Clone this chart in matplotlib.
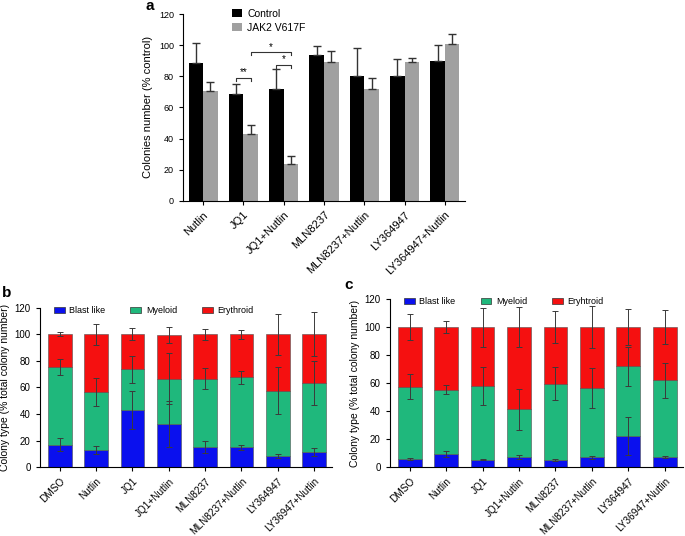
import numpy as np
import matplotlib
matplotlib.use("Agg")
import matplotlib.pyplot as plt
from matplotlib.patches import Patch

plt.rcParams['font.family'] = ['Liberation Sans', 'DejaVu Sans']

# panel a
drugs_a = ["Nutlin", "JQ1", "JQ1+Nutlin", "MLN8237", "MLN8237+Nutlin", "LY364947", "LY364947+Nutlin"]
ctrl = [88.5, 68.5, 72, 93.5, 80.5, 80.5, 90]
ctrl_err = [13, 6.5, 13, 6, 17.5, 10.5, 10]
jak2 = [70.5, 43, 23.5, 89.5, 72, 89.5, 100.5]
jak2_err = [6, 6, 5, 6.5, 7, 2.5, 6.5]

# panel b
drugs_b = ["DMSO", "Nutlin", "JQ1", "JQ1+Nutlin", "MLN8237", "MLN8237+Nutlin", "LY364947", "LY36947+Nutlin"]
b_blast = [17, 13, 43, 32.5, 15.5, 15, 8.5, 11.5]
b_blast_err = [5, 3, 14, 17, 4.5, 2, 1.5, 3]
b_myel_top = [75, 56.5, 73.5, 66.5, 66.5, 67.5, 57.5, 63]
b_myel_err = [6, 10.5, 10, 19, 8, 5, 17.5, 16.5]
b_ery_top = [100, 100, 100, 99.5, 100, 100, 100, 100]
b_ery_err = [1.5, 8, 4.5, 6, 4, 3.5, 15.5, 16.5]

# panel c
drugs_c = ["DMSO", "Nutlin", "JQ1", "JQ1+Nutlin", "MLN8237", "MLN8237+Nutlin", "LY364947", "LY36947+Nutlin"]
c_blast = [6, 9.5, 5.5, 7.5, 5.3, 7.3, 22.5, 7.5]
c_blast_err = [0.6, 2, 0.5, 1.5, 0.5, 1, 13.5, 0.6]
c_myel_top = [57.5, 55.5, 58, 41.5, 59.8, 56.5, 72, 62]
c_myel_err = [9, 3, 13.5, 14.5, 11.5, 14.5, 14, 12.5]
c_ery_top = [100, 100, 100, 100, 100, 100, 100, 100]
c_ery_err = [9.5, 4.5, 14, 14.5, 11.5, 15, 13, 12]

BLUE = "#0a10ee"
GREEN = "#1fb87c"
RED = "#f51010"

fig = plt.figure(figsize=(6.85, 5.36), dpi=100)

# ---------- a ----------
ax = fig.add_axes([0.267, 0.6256, 0.412, 0.348])
x = np.arange(len(drugs_a))
w = 0.36
ax.bar(x - w/2, ctrl, w, color="black", label="Control")
ax.bar(x + w/2, jak2, w, color="#a0a0a0", label="JAK2 V617F")
ax.errorbar(x - w/2, ctrl, yerr=[np.zeros(len(x)), ctrl_err], fmt="none",
            ecolor="#333333", elinewidth=1, capsize=3, capthick=1)
ax.errorbar(x + w/2, jak2, yerr=[np.zeros(len(x)), jak2_err], fmt="none",
            ecolor="#333333", elinewidth=1, capsize=3, capthick=1)

def bracket(ax, x1, x2, y, txt, h=2.0):
    ax.plot([x1, x1, x2, x2], [y - h, y, y, y - h], color="#333333", lw=0.8)
    ax.text((x1 + x2) / 2, y + 0.3, txt, ha="center", va="bottom", fontsize=7)

bracket(ax, 1 - w/2, 1 + w/2, 79, "**")
bracket(ax, 2 - w/2, 2 + w/2, 87.5, "*")
bracket(ax, 1 + w/2, 2 + w/2, 95.5, "*")

ax.set_xlim(-0.5, 6.5)
ax.set_ylim(0, 120)
ax.set_yticks(range(0, 121, 20))
ax.set_xticks(x)
ax.set_xticklabels(drugs_a, rotation=45, ha="right", rotation_mode="anchor", fontsize=8)
ax.tick_params(axis="y", labelsize=6.5, length=3)
ax.tick_params(axis="x", length=3)
ax.set_ylabel("Colonies number (% control)", fontsize=8)
for s in ["top", "right"]:
    ax.spines[s].set_visible(False)
ax.legend(loc="upper left", bbox_to_anchor=(0.14, 1.08), frameon=False, fontsize=7.5,
          handlelength=1.0, handleheight=0.8, handletextpad=0.5, labelspacing=0.4)
fig.text(0.213, 0.975, "a", fontsize=11, fontweight="bold", va="bottom")


def stacked(ax, drugs, blast, blast_err, myel_top, myel_err, ery_top, ery_err, ery_name, lx, cs):
    xs = np.arange(len(drugs))
    bw = 0.65
    blast = np.array(blast)
    myel_top = np.array(myel_top)
    ery_top = np.array(ery_top)
    kw = dict(edgecolor="#505050", linewidth=0.4)
    ax.bar(xs, blast, bw, color=BLUE, label="Blast like", **kw)
    ax.bar(xs, myel_top - blast, bw, bottom=blast, color=GREEN, label="Myeloid", **kw)
    ax.bar(xs, ery_top - myel_top, bw, bottom=myel_top, color=RED, label=ery_name, **kw)
    for vals, err in [(blast, blast_err), (myel_top, myel_err), (ery_top, ery_err)]:
        ax.errorbar(xs, vals, yerr=err, fmt="none", ecolor="#3a3a3a",
                    elinewidth=0.7, capsize=2.2, capthick=0.7)
    ax.set_xlim(-0.55, len(drugs) - 0.5)
    ax.set_ylim(0, 120)
    ax.set_yticks(range(0, 121, 20))
    ax.set_xticks(xs)
    ax.set_xticklabels(drugs, rotation=45, ha="right", rotation_mode="anchor", fontsize=7.2)
    ax.tick_params(axis="y", labelsize=7, length=3)
    ax.tick_params(axis="x", length=3)
    ax.set_ylabel("Colony type (% total colony number)", fontsize=7.5, labelpad=3)
    for s in ["top", "right"]:
        ax.spines[s].set_visible(False)
    handles = [Patch(facecolor=BLUE, edgecolor="#333333", lw=0.5, label="Blast like"),
               Patch(facecolor=GREEN, edgecolor="#333333", lw=0.5, label="Myeloid"),
               Patch(facecolor=RED, edgecolor="#333333", lw=0.5, label=ery_name)]
    ax.legend(handles=handles, loc="upper left", bbox_to_anchor=(lx, 1.06), ncol=3,
              frameon=False, fontsize=6.5, handlelength=1.2, handleheight=0.6,
              handletextpad=0.5, columnspacing=cs)


# ---------- b ----------
axb = fig.add_axes([0.058, 0.1282, 0.427, 0.298])
stacked(axb, drugs_b, b_blast, b_blast_err, b_myel_top, b_myel_err, b_ery_top, b_ery_err,
        "Erythroid", 0.02, 2.8)
fig.text(0.003, 0.44, "b", fontsize=11, fontweight="bold", va="bottom")

# ---------- c ----------
axc = fig.add_axes([0.569, 0.128, 0.428, 0.314])
stacked(axc, drugs_c, c_blast, c_blast_err, c_myel_top, c_myel_err, c_ery_top, c_ery_err,
        "Eryhtroid", 0.02, 2.8)
fig.text(0.503, 0.455, "c", fontsize=11, fontweight="bold", va="bottom")

fig.savefig("out.png", dpi=100)
